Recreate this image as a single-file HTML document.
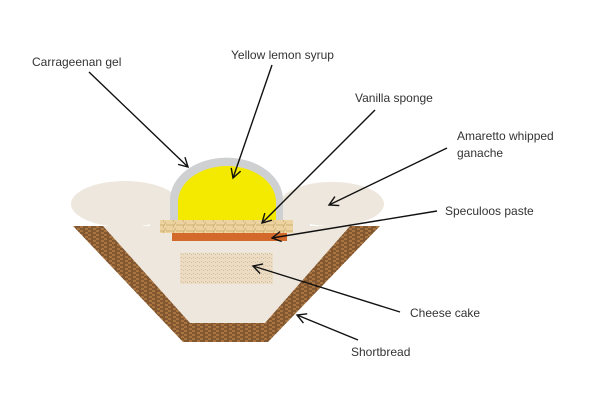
<!DOCTYPE html>
<html><head><meta charset="utf-8"><style>
html,body{margin:0;padding:0;background:#fff}
svg{display:block}
text{font-family:"Liberation Sans",sans-serif;font-size:12px;fill:#333}
</style></head><body>
<svg width="600" height="401" viewBox="0 0 600 401" xmlns="http://www.w3.org/2000/svg">
<defs>
<pattern id="wood" width="8" height="4" patternUnits="userSpaceOnUse">
<rect width="8" height="4" fill="#a87440"/>
<path d="M0 1h5M3 3h5" stroke="#5e3a1e" stroke-width="1"/>
</pattern>
<pattern id="sp" width="10" height="6" patternUnits="userSpaceOnUse">
<rect width="10" height="6" fill="#ecd3a0"/>
<path d="M0 3h4l2-3M6 3h4M3 6l1-3" stroke="#c9a76c" stroke-width="0.7" fill="none"/>
</pattern>
<pattern id="ch" width="4" height="4" patternUnits="userSpaceOnUse">
<rect width="4" height="4" fill="#ecdcc4"/>
<rect x="1" y="1" width="1" height="1" fill="#d9b98c"/>
<rect x="3" y="2" width="1" height="1" fill="#c9c0b0"/>
</pattern>
<marker id="a" markerWidth="12" markerHeight="12" refX="10" refY="6" orient="auto" markerUnits="userSpaceOnUse">
<path d="M1 1L10 6L1 11" fill="none" stroke="#111" stroke-width="1.4"/>
</marker>
</defs>
<ellipse cx="125" cy="204" rx="54" ry="23" fill="#eee7dd"/>
<ellipse cx="332" cy="204" rx="52" ry="22" fill="#eee7dd"/>
<polygon points="103,226 350,226 265,323 190,323" fill="#eee7dd"/>
<rect x="150" y="200" width="160" height="27" fill="#eee7dd"/>
<polygon points="73,226 103,226 190,323 265,323 350,226 380,226 268,342 183,342" fill="url(#wood)"/>
<path d="M170 221 V200 A56 42 0 0 1 283 200 V221 Z" fill="#cfd0d2"/>
<path d="M178 221 V202 A49 36 0 0 1 276 202 V221 Z" fill="#f4ea00"/>
<rect x="160" y="220" width="133" height="13" fill="url(#sp)"/>
<rect x="172" y="233" width="115" height="8" fill="#d4692c"/>
<rect x="180" y="253" width="93" height="31" fill="url(#ch)"/>
<g stroke="#111" stroke-width="1.4" fill="none" marker-end="url(#a)">
<line x1="89" y1="72" x2="188" y2="167"/>
<line x1="272" y1="65" x2="233" y2="178"/>
<line x1="375" y1="110" x2="262" y2="223"/>
<line x1="447" y1="148" x2="329" y2="205"/>
<line x1="437" y1="211" x2="272" y2="238"/>
<line x1="400" y1="312" x2="253" y2="266"/>
<line x1="358" y1="340" x2="297" y2="315"/>
</g>
<text x="32" y="66">Carrageenan gel</text>
<text x="231" y="59">Yellow lemon syrup</text>
<text x="355" y="102">Vanilla sponge</text>
<text x="457" y="140">Amaretto whipped</text>
<text x="457" y="157">ganache</text>
<text x="445" y="215">Speculoos paste</text>
<text x="410" y="317">Cheese cake</text>
<text x="351" y="356">Shortbread</text>
</svg>
</body></html>
